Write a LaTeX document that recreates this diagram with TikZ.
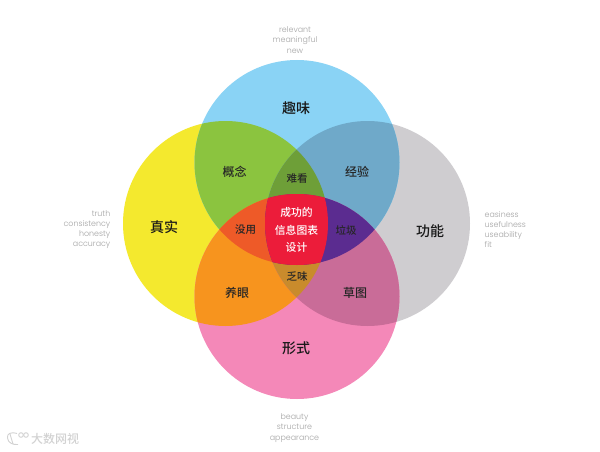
\documentclass[tikz,border=0pt]{standalone}
\usepackage{fontspec}
\setmainfont{Poppins}[UprightFont=* Light]
\newfontfamily\cjk{Noto Sans CJK SC}[UprightFont=* Medium]
\newcommand{\CT}{(297,162.5) circle[radius=102.5pt]}
\newcommand{\CB}{(297,296.5) circle[radius=102.5pt]}
\newcommand{\CL}{(225.5,223.5) circle[radius=102.5pt]}
\newcommand{\CR}{(367.5,223.5) circle[radius=102.5pt]}
\definecolor{cT}{HTML}{8AD3F5}
\definecolor{cB}{HTML}{F488B8}
\definecolor{cL}{HTML}{F4E92E}
\definecolor{cR}{HTML}{CFCDD0}
\definecolor{cTL}{HTML}{8BC43F}
\definecolor{cTR}{HTML}{6FA9C9}
\definecolor{cBL}{HTML}{F7941E}
\definecolor{cBR}{HTML}{C96C98}
\definecolor{cTLR}{HTML}{6E9F38}
\definecolor{cTBL}{HTML}{EE5A28}
\definecolor{cTBR}{HTML}{5B2C90}
\definecolor{cBLR}{HTML}{C98B2C}
\definecolor{cAll}{HTML}{EC1C3A}
\definecolor{capt}{HTML}{A4A4A4}
\definecolor{wmgray}{HTML}{D2D2D2}
\tikzset{
  big/.style={font=\cjk\fontsize{14}{14}\selectfont, text=black!90},
  mid/.style={font=\cjk\fontsize{12}{12}\selectfont, text=black!85},
  small/.style={font=\cjk\fontsize{10.5}{10.5}\selectfont, text=black!85},
  centertxt/.style={font=\cjk\fontsize{10.8}{17.5}\selectfont, text=white, align=center},
  capc/.style={font=\fontsize{7.9}{10.2}\selectfont, text=capt, align=center, inner sep=0pt},
  capl/.style={capc, align=left},
  capr/.style={capc, align=right},
  wm/.style={font=\cjk\fontsize{12}{12}\selectfont, text=wmgray, inner sep=0pt},
  wmline/.style={draw=wmgray, line width=0.9pt}
}
\begin{document}
\begin{tikzpicture}[x=1pt,y=-1pt]
\useasboundingbox (0,0) rectangle (600,452);
\fill[white] (0,0) rectangle (600,452);
\fill[cL] \CL;
\fill[cR] \CR;
\fill[cT] \CT;
\fill[cB] \CB;
\begin{scope}\clip \CT; \fill[cTL] \CL; \fill[cTR] \CR; \end{scope}
\begin{scope}\clip \CB; \fill[cBL] \CL; \fill[cBR] \CR; \end{scope}
\begin{scope}\clip \CT; \clip \CL; \fill[cTLR] \CR; \end{scope}
\begin{scope}\clip \CB; \clip \CL; \fill[cBLR] \CR; \end{scope}
\begin{scope}\clip \CT; \clip \CB; \fill[cTBL] \CL; \fill[cTBR] \CR; \end{scope}
\begin{scope}\clip \CT; \clip \CB; \clip \CL; \fill[cAll] \CR; \end{scope}

\node[big] (quwei) at (296,108) {趣味};
\node[big] (zhenshi) at (164,227.5) {真实};
\node[big] (gongneng) at (430,231) {功能};
\node[big] (xingshi) at (296,348.5) {形式};
\node[mid] (gainian) at (234.5,171.5) {概念};
\node[mid] (jingyan) at (357,171.5) {经验};
\node[mid] (yangyan) at (237,293) {养眼};
\node[mid] (caotu) at (355,293) {草图};
\node[small] (nankan) at (297,179) {难看};
\node[small] (meiyong) at (245.5,230) {没用};
\node[small] (laji) at (346,230) {垃圾};
\node[small] (fawei) at (297,277) {乏味};
\node[centertxt] (center) at (296.5,230) {成功的\\信息图表\\设计};

\node[capc] (captop) at (295,40) {relevant\\meaningful\\new};
\node[capc] (capbot) at (294.5,428) {beauty\\structure\\appearance};
\node[capr,anchor=east] (capleft) at (110.5,229.5) {truth\\consistency\\honesty\\accuracy};
\node[capl,anchor=west] (capright) at (484.5,229.5) {easiness\\usefulness\\useability\\fit};

\draw[wmline] (17,433.5) .. controls (10,431.5) and (7,434) .. (7.5,438) .. controls (8,443) and (13,445) .. (18,444.5);
\draw[wmline] (10,434) -- (13,444);
\draw[wmline] (21,435) circle[radius=2.3pt];
\draw[wmline] (26,435) circle[radius=2.3pt];
\node[wm,anchor=west] (wmark) at (31,439) {大数网视};
\end{tikzpicture}
\end{document}
